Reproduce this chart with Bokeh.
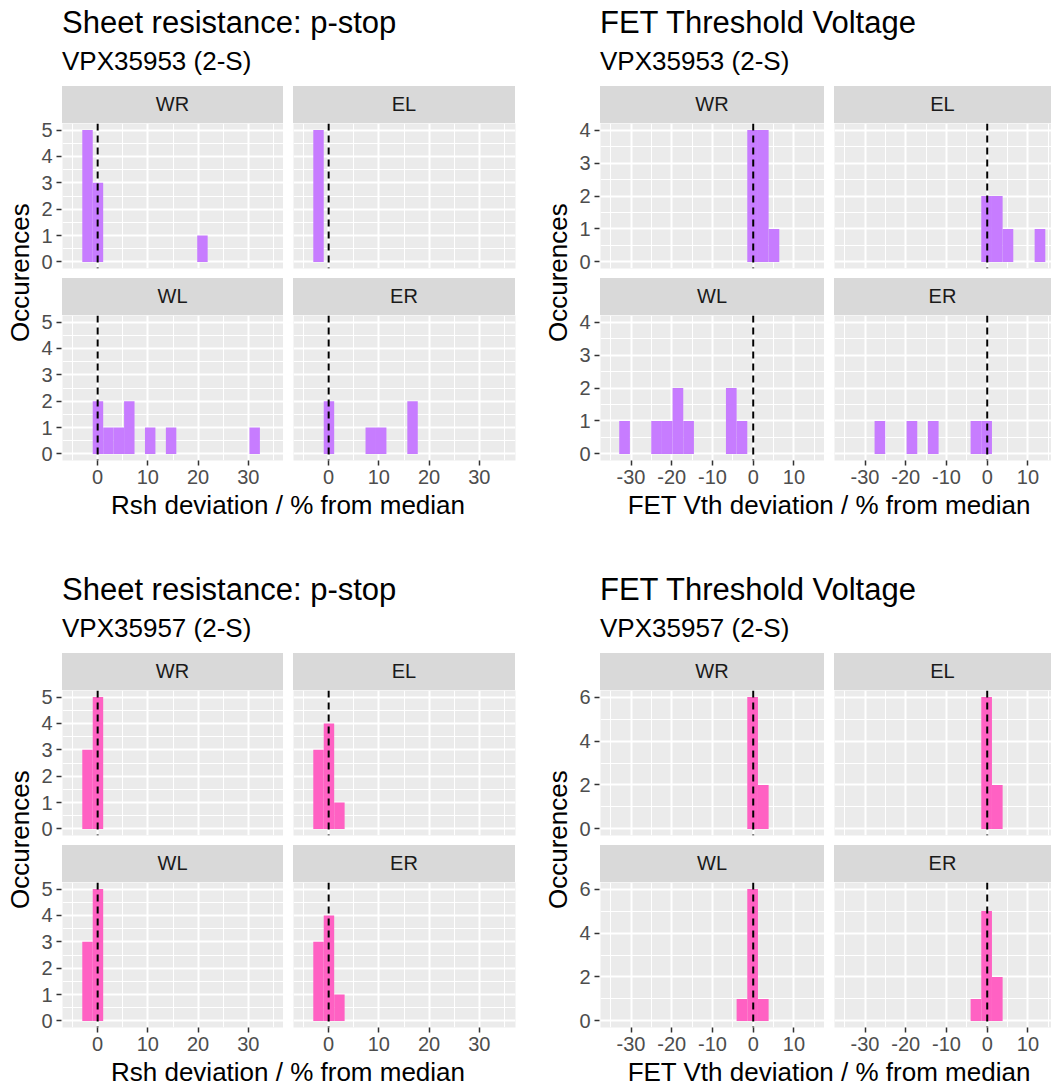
from bokeh.plotting import figure
from bokeh.models import Range1d, FixedTicker, Span, Div, Spacer
from bokeh.layouts import row, column
from bokeh.embed import file_html
from bokeh.resources import INLINE

FONT = "Liberation Sans"
PURPLE = "#C77CFF"
PINK = "#FF61C3"
PANEL_BG = "#EBEBEB"
STRIP_BG = "#D9D9D9"

FACETS = ["WR", "EL", "WL", "ER"]

# ---- Sheet resistance (p-stop): histogram bins as (bin centre, count) ----
RSH_BINWIDTH = 2.08

rsh53_wr_x = [-2.02, 0.06, 20.86]
rsh53_wr_n = [5, 3, 1]
rsh53_el_x = [-2.02]
rsh53_el_n = [5]
rsh53_wl_x = [0.06, 2.14, 4.22, 6.30, 10.46, 14.62, 31.26]
rsh53_wl_n = [2, 1, 1, 2, 1, 1, 1]
rsh53_er_x = [0.06, 8.38, 10.46, 16.70]
rsh53_er_n = [2, 1, 1, 2]

rsh57_wr_x = [-2.02, 0.06]
rsh57_wr_n = [3, 5]
rsh57_el_x = [-2.02, 0.06, 2.14]
rsh57_el_n = [3, 4, 1]
rsh57_wl_x = [-2.02, 0.06]
rsh57_wl_n = [3, 5]
rsh57_er_x = [-2.02, 0.06, 2.14]
rsh57_er_n = [3, 4, 1]

# ---- FET threshold voltage: histogram bins as (bin centre, count) ----
FET_BINWIDTH = 2.62

fet53_wr_x = [-0.15, 2.47, 5.09]
fet53_wr_n = [4, 4, 1]
fet53_el_x = [-0.15, 2.47, 5.09, 12.95]
fet53_el_n = [2, 2, 1, 1]
fet53_wl_x = [-31.59, -23.73, -21.11, -18.49, -15.87, -5.39, -2.77]
fet53_wl_n = [1, 1, 1, 2, 1, 2, 1]
fet53_er_x = [-26.35, -18.49, -13.25, -2.77, -0.15]
fet53_er_n = [1, 1, 1, 1, 1]

fet57_wr_x = [-0.15, 2.47]
fet57_wr_n = [6, 2]
fet57_el_x = [-0.15, 2.47]
fet57_el_n = [6, 2]
fet57_wl_x = [-2.77, -0.15, 2.47]
fet57_wl_n = [1, 6, 1]
fet57_er_x = [-2.77, -0.15, 2.47]
fet57_er_n = [1, 5, 2]

# ---- Axis breaks ----
rsh_x_ticks = [0, 10, 20, 30]
rsh_x_minor = [-5, 5, 15, 25, 35]
fet_x_ticks = [-30, -20, -10, 0, 10]
fet_x_minor = [-35, -25, -15, -5, 5, 15]
count5_ticks = [0, 1, 2, 3, 4, 5]
count5_minor = [0.5, 1.5, 2.5, 3.5, 4.5]
count4_ticks = [0, 1, 2, 3, 4]
count4_minor = [0.5, 1.5, 2.5, 3.5]
count6_ticks = [0, 2, 4, 6]
count6_minor = [1, 3, 5]

RSH_XLIM = (-7.0, 37.0)
FET_XLIM = (-37.5, 17.5)

FRAME_H = 145
GAP = 10
AXIS_H = 34
STRIP_H = 37


def style_axis(ax, ticker):
    ax.ticker = ticker
    ax.axis_line_color = None
    ax.major_tick_line_color = "#333333"
    ax.major_tick_line_width = 1.5
    ax.major_tick_out = 5
    ax.major_tick_in = 0
    ax.minor_tick_line_color = None
    ax.major_label_text_font = FONT
    ax.major_label_text_font_size = "20px"
    ax.major_label_text_color = "#4D4D4D"
    ax.major_label_standoff = 4


def count_axis(yr, yt, ym, width, bottom_b):
    """Narrow figure that carries only the shared count axis of a facet row,
    with room above the frame (beside the strip) for the top tick label."""
    p = figure(width=width, height=STRIP_H + FRAME_H + bottom_b,
               x_range=Range1d(start=0, end=1),
               y_range=Range1d(start=yr[0], end=yr[1]),
               x_axis_location=None, y_axis_location="left",
               output_backend="svg", toolbar_location=None,
               min_border_left=width - 1, min_border_right=0,
               min_border_top=STRIP_H, min_border_bottom=bottom_b)
    p.background_fill_color = "white"
    p.border_fill_color = "white"
    p.outline_line_color = None
    p.grid.visible = False
    style_axis(p.yaxis, FixedTicker(ticks=yt, minor_ticks=ym))
    return p


def facet_panel(xs, ns, binw, color, xr, yr, xt, xm, yt, ym,
                frame_w, left_b, right_b, show_x):
    bottom_b = AXIS_H if show_x else GAP
    p = figure(width=left_b + frame_w + right_b, height=FRAME_H + bottom_b,
               x_range=Range1d(start=xr[0], end=xr[1]),
               y_range=Range1d(start=yr[0], end=yr[1]),
               x_axis_location="below" if show_x else None,
               y_axis_location=None,
               output_backend="svg", toolbar_location=None,
               min_border_left=left_b, min_border_right=right_b,
               min_border_top=0, min_border_bottom=bottom_b)
    p.background_fill_color = PANEL_BG
    p.border_fill_color = "white"
    p.outline_line_color = None

    xtick = FixedTicker(ticks=xt, minor_ticks=xm)
    ytick = FixedTicker(ticks=yt, minor_ticks=ym)
    for g, t in ((p.xgrid, xtick), (p.ygrid, ytick)):
        g.ticker = t
        g.grid_line_color = "white"
        g.grid_line_width = 2
        g.minor_grid_line_color = "white"
        g.minor_grid_line_width = 1

    if show_x:
        style_axis(p.xaxis, xtick)
        p.xaxis.major_label_overrides = {t: str(t) for t in xt}

    p.vbar(x=xs, width=binw, top=ns, bottom=0,
           fill_color=color, line_color=None)
    p.add_layout(Span(location=0, dimension="height", line_color="black",
                      line_width=2, line_dash="7 5"))
    return p


def text_div(text, w, h, size, lh, color="black", extra=None):
    st = {"font-family": FONT, "font-size": f"{size}px",
          "line-height": f"{lh}px", "color": color, "white-space": "nowrap"}
    if extra:
        st.update(extra)
    return Div(text=text, width=w, height=h, margin=0, styles=st)


def strip(label, w):
    return text_div(label, w, STRIP_H, 20, STRIP_H, color="#1A1A1A",
                    extra={"background-color": STRIP_BG, "text-align": "center"})


def block(title, subtitle, xlabel, series, binw, color, xlim, xt, xm,
          ylim, yt, ym, geo, xlabel_h):
    ylab_w, axis_w, c1_w, c2_left, c2_w, c2_right = geo
    block_w = ylab_w + axis_w + c1_w + c2_left + c2_w + c2_right
    scale = c1_w / (xlim[1] - xlim[0])
    xlim2 = (xlim[0], xlim[0] + c2_w / scale)

    panels = {}
    for i, f in enumerate(FACETS):
        xs, ns = series[f]
        first_col = i % 2 == 0
        panels[f] = facet_panel(
            xs, ns, binw, color, xlim if first_col else xlim2, ylim,
            xt, xm, yt, ym,
            c1_w if first_col else c2_w,
            0 if first_col else c2_left,
            0 if first_col else c2_right,
            i >= 2)

    def strip_row(a, b):
        items = [strip(a, c1_w), Spacer(width=c2_left, height=STRIP_H, margin=0),
                 strip(b, c2_w)]
        if c2_right:
            items.append(Spacer(width=c2_right, height=STRIP_H, margin=0))
        return row(*items, spacing=0)

    def facet_row(a, b, bottom_b):
        return row(count_axis(ylim, yt, ym, axis_w, bottom_b),
                   column(strip_row(a, b), row(panels[a], panels[b], spacing=0),
                          spacing=0),
                   spacing=0)

    grid = column(facet_row("WR", "EL", GAP), facet_row("WL", "ER", AXIS_H),
                  spacing=0)

    area_h = 2 * STRIP_H + FRAME_H + GAP + FRAME_H
    ylab = text_div("Occurences", ylab_w, area_h, 26, 40,
                    extra={"writing-mode": "vertical-rl",
                           "transform": "rotate(180deg)",
                           "text-align": "center"})

    title_div = row(Spacer(width=62, height=45, margin=0),
                    text_div(title, block_w - 62, 45, 31, 45), spacing=0)
    sub_div = row(Spacer(width=62, height=41, margin=0),
                  text_div(subtitle, block_w - 62, 41, 26, 33), spacing=0)

    panels_left = ylab_w + axis_w
    panels_right = panels_left + (xlim[1] - xlim[0]) * scale * 2 + c2_left
    centre = (panels_left + panels_right) / 2
    lab_w = int(2 * min(centre - 40, block_w - centre))
    lab_pad = int(round(centre - lab_w / 2))
    xlab = row(Spacer(width=lab_pad, height=xlabel_h, margin=0),
               text_div(xlabel, lab_w, xlabel_h, 26, 23,
                        extra={"text-align": "center"}), spacing=0)

    return column(title_div, sub_div, row(ylab, grid, spacing=0), xlab, spacing=0)


LEFT_GEO = (30, 32, 221, 10, 222, 23)
RIGHT_GEO = (30, 32, 224, 10, 217, 0)

rsh53 = {"WR": (rsh53_wr_x, rsh53_wr_n), "EL": (rsh53_el_x, rsh53_el_n),
         "WL": (rsh53_wl_x, rsh53_wl_n), "ER": (rsh53_er_x, rsh53_er_n)}
rsh57 = {"WR": (rsh57_wr_x, rsh57_wr_n), "EL": (rsh57_el_x, rsh57_el_n),
         "WL": (rsh57_wl_x, rsh57_wl_n), "ER": (rsh57_er_x, rsh57_er_n)}
fet53 = {"WR": (fet53_wr_x, fet53_wr_n), "EL": (fet53_el_x, fet53_el_n),
         "WL": (fet53_wl_x, fet53_wl_n), "ER": (fet53_er_x, fet53_er_n)}
fet57 = {"WR": (fet57_wr_x, fet57_wr_n), "EL": (fet57_el_x, fet57_el_n),
         "WL": (fet57_wl_x, fet57_wl_n), "ER": (fet57_er_x, fet57_er_n)}

RSH_XLAB = "Rsh deviation / % from median"
FET_XLAB = "FET Vth deviation / % from median"

top = row(
    block("Sheet resistance: p-stop", "VPX35953 (2-S)", RSH_XLAB, rsh53,
          RSH_BINWIDTH, PURPLE, RSH_XLIM, rsh_x_ticks, rsh_x_minor,
          (-0.25, 5.25), count5_ticks, count5_minor, LEFT_GEO, 73),
    block("FET Threshold Voltage", "VPX35953 (2-S)", FET_XLAB, fet53,
          FET_BINWIDTH, PURPLE, FET_XLIM, fet_x_ticks, fet_x_minor,
          (-0.2, 4.2), count4_ticks, count4_minor, RIGHT_GEO, 73),
    spacing=0)

bottom = row(
    block("Sheet resistance: p-stop", "VPX35957 (2-S)", RSH_XLAB, rsh57,
          RSH_BINWIDTH, PINK, RSH_XLIM, rsh_x_ticks, rsh_x_minor,
          (-0.25, 5.25), count5_ticks, count5_minor, LEFT_GEO, 27),
    block("FET Threshold Voltage", "VPX35957 (2-S)", FET_XLAB, fet57,
          FET_BINWIDTH, PINK, FET_XLIM, fet_x_ticks, fet_x_minor,
          (-0.3, 6.3), count6_ticks, count6_minor, RIGHT_GEO, 27),
    spacing=0)

page = column(top, bottom, spacing=0)

open("out.html", "w").write(file_html(page, INLINE))
